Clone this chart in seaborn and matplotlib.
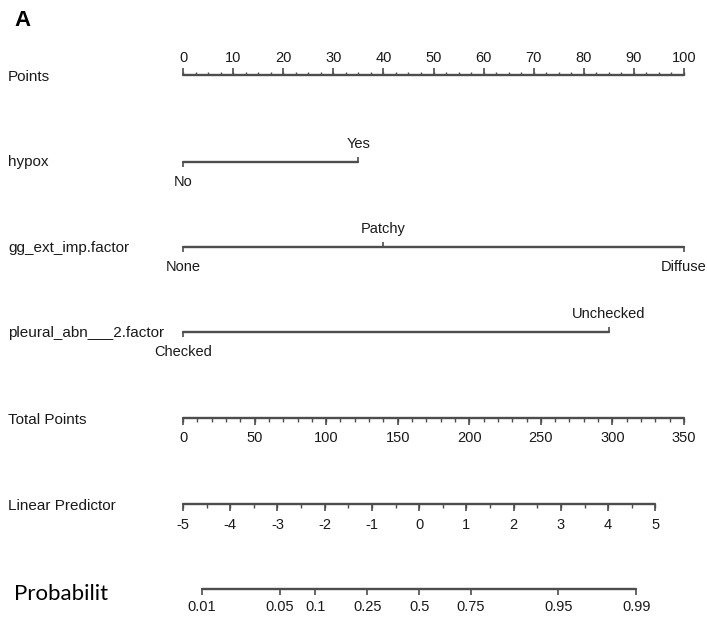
import numpy as np
import matplotlib
matplotlib.use("Agg")
import matplotlib.pyplot as plt
import seaborn as sns
import pandas as pd

# ---------------- data ----------------
points_ticks = [0, 10, 20, 30, 40, 50, 60, 70, 80, 90, 100]
points_minor_step = 2.5

hypox_levels = ["No", "Yes"]
hypox_points = [0, 35]

gg_levels = ["None", "Patchy", "Diffuse"]
gg_points = [0, 40, 100]

pleural_levels = ["Checked", "Unchecked"]
pleural_points = [0, 85]

total_ticks = [0, 50, 100, 150, 200, 250, 300, 350]
total_minor_step = 10
total_max = 350

lp_ticks = [-5, -4, -3, -2, -1, 0, 1, 2, 3, 4, 5]
lp_minor_step = 0.5
lp_at_total_zero = -5.0
total_per_lp = 33.0

prob_ticks = [0.01, 0.05, 0.1, 0.25, 0.5, 0.75, 0.95, 0.99]
prob_labels = ["0.01", "0.05", "0.1", "0.25", "0.5", "0.75", "0.95", "0.99"]

row_names = ["Points", "hypox", "gg_ext_imp.factor", "pleural_abn___2.factor",
             "Total Points", "Linear Predictor"]

# ---------------- layout ----------------
W, H = 707, 623
X0_PX, X100_PX = 183, 684
px_per_pt = (X100_PX - X0_PX) / 100.0
row_y = {"Points": 75, "hypox": 162, "gg": 247, "pleural": 332,
         "Total": 418, "LP": 504, "Prob": 589}
label_y = [77, 162, 248, 333, 420, 506]

sns.set_theme(style="white")
plt.rcParams["font.family"] = ["Liberation Sans", "DejaVu Sans"]
LINE = "#4d4d4d"
TXT = "#1a1a1a"
FS = 10.5

fig = plt.figure(figsize=(W / 100, H / 100), dpi=100)
ax = fig.add_axes([0, 0, 1, 1])
ax.set_xlim(-X0_PX / px_per_pt, (W - X0_PX) / px_per_pt)
ax.set_ylim(H, 0)
ax.axis("off")


def hline(xs, y):
    df = pd.DataFrame({"x": [min(xs), max(xs)], "y": [y, y]})
    sns.lineplot(data=df, x="x", y="y", ax=ax, color=LINE, lw=1.7,
                 estimator=None, sort=False)


def total_to_x(t):
    return np.asarray(t, dtype=float) * 100.0 / total_max


def lp_to_x(lp):
    return total_to_x((np.asarray(lp, dtype=float) - lp_at_total_zero) * total_per_lp)


def prob_to_x(p):
    p = np.asarray(p, dtype=float)
    return lp_to_x(np.log(p / (1 - p)))


# Points axis (ticks upward, labels above)
y = row_y["Points"]
hline(points_ticks, y)
minor = np.arange(points_ticks[0], points_ticks[-1] + 1e-9, points_minor_step)
ax.vlines(minor, y - 3.5, y, color=LINE, lw=1.0)
ax.vlines(points_ticks, y - 7, y, color=LINE, lw=1.2)
for t in points_ticks:
    ax.text(t, y - 17, str(t), ha="center", va="center", fontsize=FS, color=TXT)


# factor rows
def factor_row(levels, pts, y, above):
    hline(pts, y)
    for lev, p, up in zip(levels, pts, above):
        if up:
            ax.vlines(p, y - 5, y, color=LINE, lw=1.2)
            ax.text(p, y - 18, lev, ha="center", va="center", fontsize=FS, color=TXT)
        else:
            ax.vlines(p, y, y + 5, color=LINE, lw=1.2)
            ax.text(p, y + 20, lev, ha="center", va="center", fontsize=FS, color=TXT)


factor_row(hypox_levels, hypox_points, row_y["hypox"], [False, True])
factor_row(gg_levels, gg_points, row_y["gg"], [False, True, False])
factor_row(pleural_levels, pleural_points, row_y["pleural"], [False, True])

# Total points (ticks downward)
y = row_y["Total"]
hline(total_to_x(total_ticks), y)
minor = np.arange(0, total_max + 1e-9, total_minor_step)
ax.vlines(total_to_x(minor), y, y + 4, color=LINE, lw=1.0)
ax.vlines(total_to_x(total_ticks), y, y + 7, color=LINE, lw=1.2)
for t in total_ticks:
    ax.text(total_to_x(t), y + 20, str(t), ha="center", va="center", fontsize=FS, color=TXT)

# Linear predictor
y = row_y["LP"]
hline(lp_to_x(lp_ticks), y)
minor = np.arange(lp_ticks[0], lp_ticks[-1] + 1e-9, lp_minor_step)
ax.vlines(lp_to_x(minor), y, y + 4, color=LINE, lw=1.0)
ax.vlines(lp_to_x(lp_ticks), y, y + 7, color=LINE, lw=1.2)
for t in lp_ticks:
    ax.text(lp_to_x(t), y + 21, str(t), ha="center", va="center", fontsize=FS, color=TXT)

# Probability
y = row_y["Prob"]
hline(prob_to_x(prob_ticks), y)
ax.vlines(prob_to_x(prob_ticks), y, y + 6, color=LINE, lw=1.2)
for p, lab in zip(prob_ticks, prob_labels):
    ax.text(prob_to_x(p), y + 18, lab, ha="center", va="center", fontsize=FS, color=TXT)

# Row labels
for name, ly in zip(row_names, label_y):
    fig.text(8 / W, 1 - ly / H, name, ha="left", va="center", fontsize=FS + 0.5, color=TXT)
fig.text(14 / W, 1 - 594 / H, "Probabilit", ha="left", va="center", fontsize=16,
         color="black", family=["Lato", "DejaVu Sans"])
fig.text(14 / W, 1 - 20 / H, "A", ha="left", va="center", fontsize=16,
         fontweight="bold", color="black", family=["Liberation Sans", "DejaVu Sans"])

fig.savefig("out.png", dpi=100)
